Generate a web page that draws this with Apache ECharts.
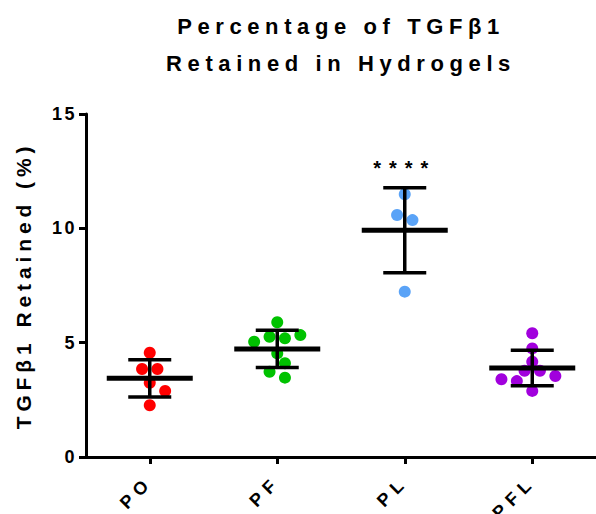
<!DOCTYPE html>
<html>
<head>
<meta charset="utf-8">
<script src="https://cdn.jsdelivr.net/npm/echarts@6/dist/echarts.min.js"></script>
<style>
html,body{margin:0;padding:0;background:#fff;}
#chart{width:596px;height:514px;}
</style>
</head>
<body>
<div id="chart"></div>
<script>
// ---- data ----
const categories = ['PO', 'PF', 'PL', 'PFL'];
const valuesPO  = [4.56, 3.85, 3.85, 3.25, 2.89, 2.26];
const valuesPF  = [5.89, 5.04, 5.26, 5.19, 5.33, 4.53, 4.10, 3.73, 3.47];
const valuesPL  = [11.49, 10.58, 10.36, 7.23];
const valuesPFL = [5.41, 4.75, 4.17, 3.77, 3.77, 3.54, 3.40, 3.32, 2.89];
const significance = ['', '', '****', ''];
const yTicks = [0, 5, 10, 15];
const titleLines = ['Percentage of TGFβ1', 'Retained in Hydrogels'];
const yAxisTitle = 'TGFβ1 Retained (%)';

const groups = [valuesPO, valuesPF, valuesPL, valuesPFL];
const pointColors = ['#ff0000', '#00c200', '#5aa3f7', '#a100dd'];

function mean(a) { return a.reduce((s, v) => s + v, 0) / a.length; }
function sd(a) {
  const m = mean(a);
  return Math.sqrt(a.reduce((s, v) => s + (v - m) * (v - m), 0) / (a.length - 1));
}

const FONT = '"Liberation Sans", Arial, sans-serif';
const STEP = 7.7, COLLIDE = 11.5, ROW = 8, RADIUS = 6;

// scatter-dot layout: rows of nearby points, spread horizontally, shifted to avoid overlaps
function swarm(ys) {
  const order = ys.map((y, idx) => ({ y, idx })).sort((a, b) => a.y - b.y || a.idx - b.idx);
  const rows = [];
  order.forEach(p => {
    const r = rows[rows.length - 1];
    if (r && p.y - r[0].y <= ROW) r.push(p); else rows.push([p]);
  });
  const placed = [];
  const offs = new Array(ys.length).fill(0);
  rows.forEach(r => {
    r.sort((a, b) => a.idx - b.idx);
    const n = r.length;
    for (let k = 0; k < 30; k++) {
      const shift = k === 0 ? 0 : (k % 2 ? (k + 1) / 2 : -k / 2);
      const xs = r.map((p, j) => ((j - (n - 1) / 2) * 2 + shift) * STEP);
      const ok = r.every((p, j) => placed.every(q => Math.hypot(q.x - xs[j], q.y - p.y) >= COLLIDE));
      if (ok || k === 29) {
        r.forEach((p, j) => { offs[p.idx] = xs[j]; placed.push({ x: xs[j], y: p.y }); });
        break;
      }
    }
  });
  return offs;
}

const chart = echarts.init(document.getElementById('chart'), null, { renderer: 'svg' });

const summaryData = categories.map((c, i) => [i, mean(groups[i])]);

const option = {
  animation: false,
  backgroundColor: '#ffffff',
  grid: { left: 86, top: 114, width: 512, height: 343, containLabel: false },
  graphic: titleLines.map((t, i) => ({
    type: 'text',
    x: 341, y: 26 + i * 37,
    style: {
      text: t, fill: '#000',
      font: 'bold 22px ' + FONT,
      textAlign: 'center', align: 'center',
      textVerticalAlign: 'middle', verticalAlign: 'middle'
    }
  })),
  xAxis: {
    type: 'category',
    data: categories,
    boundaryGap: true,
    axisLine: { show: true, lineStyle: { color: '#000', width: 3 } },
    axisTick: { show: true, alignWithLabel: true, length: 7, lineStyle: { color: '#000', width: 3 } },
    axisLabel: { rotate: 45, interval: 0, margin: 22, color: '#000', fontSize: 18, fontWeight: 'bold', fontFamily: FONT },
    splitLine: { show: false }
  },
  yAxis: {
    type: 'value',
    min: yTicks[0], max: yTicks[yTicks.length - 1], interval: yTicks[1] - yTicks[0],
    name: yAxisTitle,
    nameLocation: 'middle',
    nameGap: 52,
    nameTextStyle: { color: '#000', fontSize: 21, fontWeight: 'bold', fontFamily: FONT },
    axisLine: { show: true, lineStyle: { color: '#000', width: 3 } },
    axisTick: { show: true, length: 7, lineStyle: { color: '#000', width: 3 } },
    axisLabel: { margin: 9, color: '#000', fontSize: 18, fontWeight: 'bold', fontFamily: FONT },
    splitLine: { show: false }
  },
  series: [
    {
      type: 'custom',
      name: 'points',
      z: 2,
      data: summaryData,
      renderItem: function (params, api) {
        const i = api.value(0);
        const vals = groups[i];
        const pts = vals.map(v => api.coord([i, v]));
        const offs = swarm(pts.map(p => p[1]));
        return {
          type: 'group',
          children: pts.map((p, j) => ({
            type: 'circle',
            shape: { cx: p[0] + offs[j], cy: p[1], r: RADIUS },
            style: { fill: pointColors[i], stroke: null }
          }))
        };
      }
    },
    {
      type: 'custom',
      name: 'mean ± SD',
      z: 3,
      data: summaryData,
      renderItem: function (params, api) {
        const i = api.value(0);
        const m = mean(groups[i]), s = sd(groups[i]);
        const pm = api.coord([i, m]);
        const pt = api.coord([i, m + s]);
        const pb = api.coord([i, m - s]);
        const cx = pm[0];
        const ln = (x1, y1, x2, y2, w) => ({
          type: 'line', shape: { x1, y1, x2, y2 },
          style: { stroke: '#000', lineWidth: w, lineCap: 'butt' }
        });
        const children = [
          ln(cx, pt[1], cx, pb[1], 3.5),
          ln(cx - 21.5, pt[1], cx + 21.5, pt[1], 3.5),
          ln(cx - 21.5, pb[1], cx + 21.5, pb[1], 3.5),
          ln(cx - 43, pm[1], cx + 43, pm[1], 5)
        ];
        if (significance[i]) {
          children.push({
            type: 'text', x: cx, y: pt[1] - 20,
            style: {
              text: significance[i], fill: '#000', font: 'bold 20px ' + FONT,
              textAlign: 'center', align: 'center', textVerticalAlign: 'middle', verticalAlign: 'middle'
            }
          });
        }
        return { type: 'group', children };
      }
    }
  ]
};

chart.setOption(option);

// GraphPad-style letter spacing on the SVG text
function spacingFor(s) {
  if (titleLines.indexOf(s) >= 0) return 5.6;
  if (s === yAxisTitle) return 4.9;
  if (significance.indexOf(s) >= 0 && s) return 8;
  if (categories.indexOf(s) >= 0) return 6;
  return 2.5;
}
function applySpacing() {
  document.querySelectorAll('#chart svg text').forEach(t => {
    const ls = spacingFor(t.textContent.trim()) + 'px';
    t.setAttribute('letter-spacing', ls);
    t.style.letterSpacing = ls;
  });
}
chart.on('finished', applySpacing);
applySpacing();
setTimeout(applySpacing, 30);
setTimeout(applySpacing, 200);
</script>
</body>
</html>
